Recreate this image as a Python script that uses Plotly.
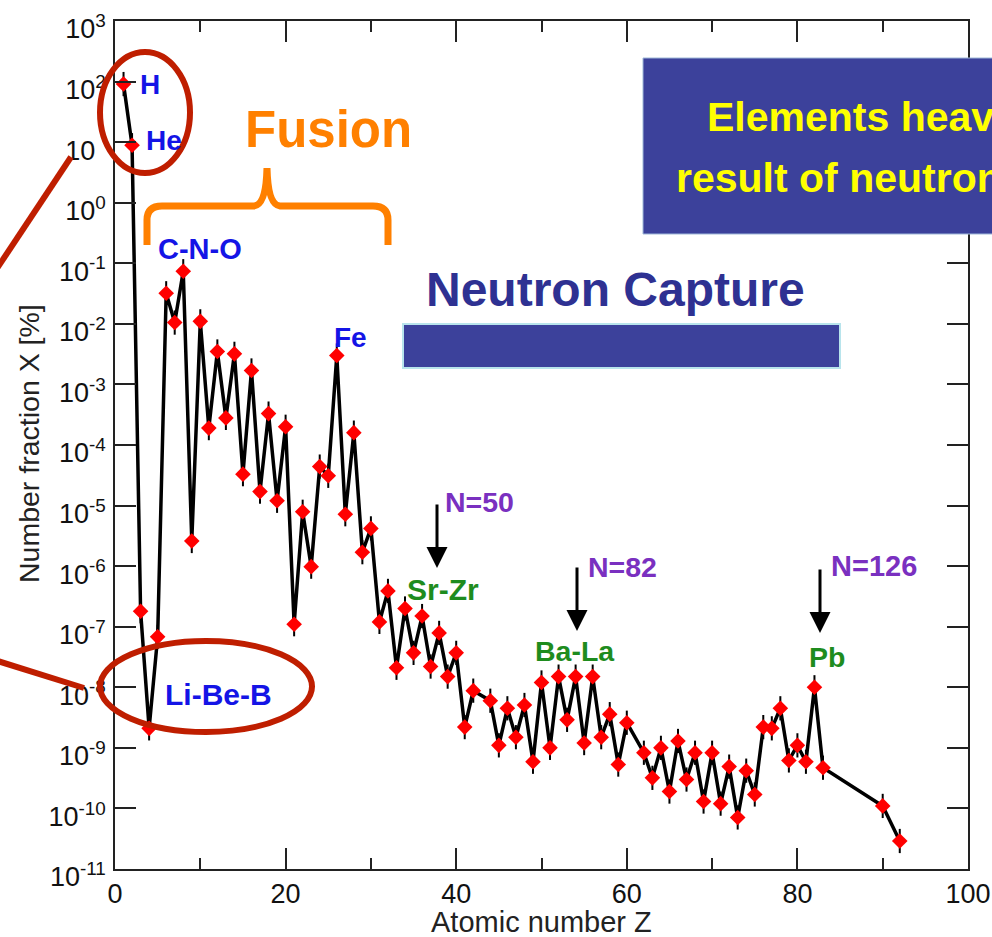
import plotly.graph_objects as go

# ---------------- data ----------------
atomic_number = [1, 2, 3, 4, 5, 6, 7, 8, 9, 10,
                 11, 12, 13, 14, 15, 16, 17, 18, 19, 20,
                 21, 22, 23, 24, 25, 26, 27, 28, 29, 30,
                 31, 32, 33, 34, 35, 36, 37, 38, 39, 40,
                 41, 42, 44, 45, 46, 47, 48, 49, 50,
                 51, 52, 53, 54, 55, 56, 57, 58, 59, 60,
                 62, 63, 64, 65, 66, 67, 68, 69, 70,
                 71, 72, 73, 74, 75, 76, 77, 78, 79, 80,
                 81, 82, 83, 90, 92]
number_fraction = [91, 8.9, 1.8e-7, 2.1e-9, 6.8e-8, 3.2e-2, 1.05e-2, 7.4e-2, 2.6e-6, 1.1e-2,
                   1.9e-4, 3.5e-3, 2.8e-4, 3.2e-3, 3.3e-5, 1.7e-3, 1.7e-5, 3.3e-4, 1.2e-5, 2.0e-4,
                   1.1e-7, 7.9e-6, 9.8e-7, 4.4e-5, 3.1e-5, 3.0e-3, 7.2e-6, 1.6e-4, 1.7e-6, 4.2e-6,
                   1.2e-7, 3.9e-7, 2.1e-8, 2.0e-7, 3.7e-8, 1.5e-7, 2.2e-8, 7.9e-8, 1.5e-8, 3.7e-8,
                   2.2e-9, 8.8e-9, 6.0e-9, 1.1e-9, 4.5e-9, 1.5e-9, 5.1e-9, 5.9e-10, 1.2e-8,
                   1.0e-9, 1.5e-8, 2.9e-9, 1.5e-8, 1.2e-9, 1.5e-8, 1.5e-9, 3.6e-9, 5.3e-10, 2.6e-9,
                   8.3e-10, 3.2e-10, 1.0e-9, 1.9e-10, 1.3e-9, 3.0e-10, 8.3e-10, 1.3e-10, 8.3e-10,
                   1.2e-10, 4.9e-10, 7.1e-11, 4.2e-10, 1.7e-10, 2.2e-9, 2.1e-9, 4.5e-9, 6.2e-10, 1.1e-9,
                   5.9e-10, 1.0e-8, 4.7e-10, 1.1e-10, 2.9e-11]

x_tick_values = [0, 20, 40, 60, 80, 100]
y_tick_exponents = [3, 2, 1, 0, -1, -2, -3, -4, -5, -6, -7, -8, -9, -10, -11]
y_tick_labels = [
    "10<sup>%d</sup>" % e if e != 1
    else "10<sup><span style='color:rgba(0,0,0,0)'>0</span></sup>"
    for e in y_tick_exponents
]

# ---------------- layout helpers ----------------
W, H = 992, 937
L, R, T, B = 115, 968, 21, 869
FONT = "Liberation Sans, Arial, Helvetica, sans-serif"


def px(x):
    return (x - L) / (R - L)


def py(y):
    return (B - y) / (B - T)


fig = go.Figure()

err_up = [v * (10 ** 0.2 - 1) for v in number_fraction]
err_dn = [v * (1 - 10 ** -0.2) for v in number_fraction]

fig.add_trace(go.Scatter(
    x=atomic_number, y=number_fraction, mode="lines+markers",
    line=dict(color="black", width=3.5),
    marker=dict(symbol="diamond", size=12, color="#ff0000", line=dict(width=0)),
    error_y=dict(type="data", symmetric=False, array=err_up, arrayminus=err_dn,
                 color="black", thickness=2, width=0),
    cliponaxis=False, showlegend=False, hoverinfo="x+y",
))

annotations = []

# element / group labels
labels = [
    ("H", 150, 85, "#1414e6", 28),
    ("He", 164, 141, "#1414e6", 28),
    ("C-N-O", 200, 249, "#1414e6", 29),
    ("Fe", 350, 337, "#1414e6", 28),
    ("Li-Be-B", 218, 694, "#1414e6", 30),
    ("N=50", 479, 502, "#7a30c0", 28.5),
    ("N=82", 622, 567, "#7a30c0", 28.5),
    ("N=126", 874, 566, "#7a30c0", 29),
    ("Sr-Zr", 443, 589, "#1e8c1e", 30),
    ("Ba-La", 575, 651, "#1e8c1e", 28.5),
    ("Pb", 827, 657, "#1e8c1e", 28.5),
    ("Fusion", 328, 129, "#ff8000", 51),
    ("Neutron Capture", 615, 289, "#2e3192", 48),
]
for text, cx, cy, col, size in labels:
    annotations.append(dict(
        text="<b>%s</b>" % text, x=px(cx), y=py(cy), xref="paper", yref="paper",
        xanchor="center", yanchor="middle", showarrow=False,
        font=dict(family=FONT, size=size, color=col)))

# yellow text in the blue box (runs off the right edge like the reference)
annotations.append(dict(
    text="<b>Elements heavier than iron are the</b>", x=px(705), y=py(117),
    xref="paper", yref="paper", xanchor="left", yanchor="middle", showarrow=False,
    font=dict(family=FONT, size=41, color="#ffff00")))
annotations.append(dict(
    text="<b>result of neutron capture</b>", x=px(674), y=py(178),
    xref="paper", yref="paper", xanchor="left", yanchor="middle", showarrow=False,
    font=dict(family=FONT, size=41, color="#ffff00")))

# arrows (N=50, N=82, N=126)
for ax_x, tip_y, length in [(437, 568, 65), (577, 631, 65), (820, 633, 65)]:
    annotations.append(dict(
        text="", x=px(ax_x), y=py(tip_y), xref="paper", yref="paper",
        ax=0, ay=-length, showarrow=True, arrowhead=2, arrowsize=1.4,
        arrowwidth=3, arrowcolor="black"))

# axis titles
annotations.append(dict(
    text="Atomic number Z", x=px(541), y=py(922), xref="paper", yref="paper",
    xanchor="center", yanchor="middle", showarrow=False,
    font=dict(family=FONT, size=29, color="#222222")))
annotations.append(dict(
    text="Number fraction X [%]", x=px(29), y=py(444), xref="paper", yref="paper",
    xanchor="center", yanchor="middle", showarrow=False, textangle=-90,
    font=dict(family=FONT, size=28.5, color="#222222")))

shapes = []
RED = "#bf1e00"
ORANGE = "#ff8000"
BOX = "#3c419b"

# blue boxes
shapes.append(dict(type="rect", xref="paper", yref="paper", layer="above",
                   x0=px(643), x1=px(1010), y0=py(234), y1=py(58),
                   fillcolor=BOX, line=dict(color="#9fb8d8", width=1)))
shapes.append(dict(type="rect", xref="paper", yref="paper", layer="above",
                   x0=px(403), x1=px(840), y0=py(368), y1=py(324),
                   fillcolor=BOX, line=dict(color="#b8e4ec", width=2)))

# red ellipses and pointer lines
shapes.append(dict(type="circle", xref="paper", yref="paper", layer="above",
                   x0=px(100), x1=px(190), y0=py(173), y1=py(52),
                   line=dict(color=RED, width=6)))
shapes.append(dict(type="circle", xref="paper", yref="paper", layer="above",
                   x0=px(100), x1=px(312), y0=py(732), y1=py(641),
                   line=dict(color=RED, width=6)))
shapes.append(dict(type="line", xref="paper", yref="paper", layer="above",
                   x0=px(71), y0=py(157), x1=px(-12), y1=py(282),
                   line=dict(color=RED, width=6)))
shapes.append(dict(type="line", xref="paper", yref="paper", layer="above",
                   x0=px(-12), y0=py(658), x1=px(84), y1=py(688),
                   line=dict(color=RED, width=6)))

# orange curly brace over the fusion region
brace_pts = [("M", [(147, 245)]), ("L", [(147, 220)]), ("Q", [(147, 206), (162, 206)]),
             ("L", [(254, 206)]), ("Q", [(266, 205), (267, 168)]),
             ("Q", [(268, 205), (280, 206)]), ("L", [(373, 206)]),
             ("Q", [(388, 206), (388, 220)]), ("L", [(388, 245)])]
path = " ".join(cmd + " " + " ".join("%.5f,%.5f" % (px(a), py(b)) for a, b in pts)
                for cmd, pts in brace_pts)
shapes.append(dict(type="path", xref="paper", yref="paper", layer="above",
                   path=path, line=dict(color=ORANGE, width=7)))

fig.update_layout(
    width=W, height=H,
    margin=dict(l=L, r=W - R, t=T, b=H - B, pad=0, autoexpand=False),
    paper_bgcolor="white", plot_bgcolor="white",
    font=dict(family=FONT, color="black"),
    showlegend=False,
    annotations=annotations,
    shapes=shapes,
    xaxis=dict(
        range=[0, 100], tickvals=x_tick_values, ticks="inside", ticklen=21,
        tickwidth=1.5, tickcolor="#222222", showline=True, linecolor="#222222",
        linewidth=1.5, mirror="ticks", showgrid=False, zeroline=False,
        automargin=False,
        tickfont=dict(family=FONT, size=27, color="#111111"),
        minor=dict(ticks="inside", dtick=10, tick0=0, ticklen=11, tickwidth=1.5,
                   tickcolor="#222222", showgrid=False),
        ticklabelstandoff=0,
    ),
    yaxis=dict(
        type="log", range=[-11, 3],
        tickvals=[10 ** e for e in y_tick_exponents], ticktext=y_tick_labels,
        ticks="inside", ticklen=21, tickwidth=1.5, tickcolor="#222222",
        showline=True, linecolor="#222222", linewidth=1.5, mirror="ticks",
        showgrid=False, zeroline=False, automargin=False,
        tickfont=dict(family=FONT, size=27, color="#111111"),
        ticklabelstandoff=2, ticklabelshift=8,
    ),
)

fig.write_html("out.html")
